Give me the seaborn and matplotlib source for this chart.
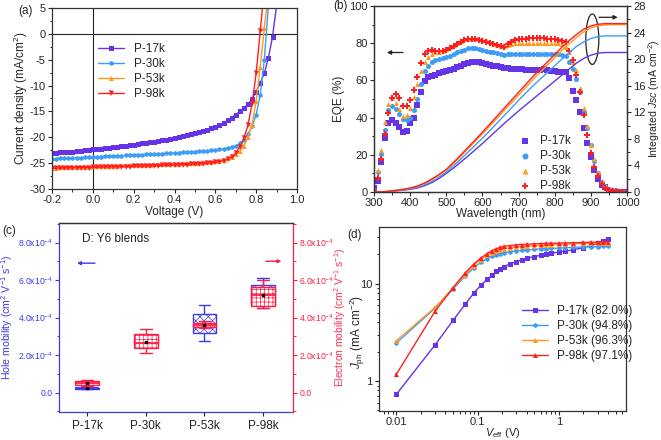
import numpy as np
import pandas as pd
import matplotlib
matplotlib.use("Agg")
import matplotlib.pyplot as plt
import seaborn as sns
from matplotlib.patches import Ellipse
from matplotlib.ticker import MultipleLocator, FixedLocator, FixedFormatter, LogLocator, NullFormatter

sns.set_style("ticks")
plt.rcParams.update({
    "font.family": ["Liberation Sans", "DejaVu Sans"],
    "font.size": 8,
    "mathtext.fontset": "custom",
    "mathtext.rm": "Liberation Sans",
    "mathtext.it": "Liberation Sans:italic",
    "axes.unicode_minus": False,
    "axes.linewidth": 0.9,
    "axes.edgecolor": "#333333",
    "xtick.direction": "out", "ytick.direction": "out",
    "xtick.major.size": 3, "ytick.major.size": 3,
    "xtick.minor.size": 1.8, "ytick.minor.size": 1.8,
    "xtick.major.width": 0.8, "ytick.major.width": 0.8,
    "xtick.minor.width": 0.7, "ytick.minor.width": 0.7,
    "xtick.major.pad": 1.5, "ytick.major.pad": 1.5,
    "xtick.labelsize": 8, "ytick.labelsize": 8,
    "axes.labelsize": 8.5,
    "hatch.linewidth": 0.5,
})

# ---------------- data ----------------
names = ["P-17k", "P-30k", "P-53k", "P-98k"]
colors = ["#6633e6", "#3d9cf5", "#ff9a1f", "#ff1f1f"]

# (a) J-V curves
voltage = [-0.20, -0.18, -0.16, -0.14, -0.12, -0.10, -0.08, -0.06, -0.04, -0.02,
           0.00, 0.02, 0.04, 0.06, 0.08, 0.10, 0.12, 0.14, 0.16, 0.18,
           0.20, 0.22, 0.24, 0.26, 0.28, 0.30, 0.32, 0.34, 0.36, 0.38,
           0.40, 0.42, 0.44, 0.46, 0.48, 0.50, 0.52, 0.54, 0.56, 0.58,
           0.60, 0.62, 0.64, 0.66, 0.68, 0.70, 0.72, 0.74, 0.76, 0.78,
           0.80, 0.82, 0.84, 0.86, 0.88, 0.90]
nan = np.nan
j_17k = [-23.0, -22.95, -22.9, -22.85, -22.8, -22.75, -22.7, -22.6, -22.5, -22.45,
         -22.35, -22.3, -22.2, -22.1, -22.0, -21.9, -21.8, -21.7, -21.6, -21.5,
         -21.4, -21.3, -21.2, -21.1, -21.0, -20.9, -20.75, -20.6, -20.45, -20.3,
         -20.1, -19.9, -19.7, -19.5, -19.3, -19.1, -18.9, -18.7, -18.5, -18.2,
         -18.0, -17.6, -17.2, -16.7, -16.2, -15.6, -15.0, -14.3, -13.6, -12.6,
         -11.2, -9.5, -7.6, -4.6, -0.6, 5.5]
j_30k = [-24.2, -24.15, -24.1, -24.1, -24.05, -24.0, -24.0, -23.95, -23.9, -23.85,
         -23.8, -23.8, -23.75, -23.7, -23.7, -23.65, -23.6, -23.55, -23.5, -23.5,
         -23.45, -23.4, -23.35, -23.3, -23.3, -23.25, -23.2, -23.15, -23.1, -23.05,
         -23.0, -22.95, -22.9, -22.85, -22.8, -22.75, -22.7, -22.65, -22.6, -22.5,
         -22.45, -22.35, -22.25, -22.1, -21.9, -21.7, -21.2, -20.5, -19.3, -17.9,
         -15.6, -11.8, -5.0, 5.5, nan, nan]
j_53k = [-25.9, -25.85, -25.8, -25.8, -25.75, -25.75, -25.7, -25.7, -25.65, -25.65,
         -25.6, -25.6, -25.55, -25.55, -25.5, -25.5, -25.5, -25.45, -25.45, -25.4,
         -25.4, -25.35, -25.35, -25.3, -25.3, -25.25, -25.25, -25.2, -25.2, -25.15,
         -25.1, -25.1, -25.05, -25.0, -25.0, -24.95, -24.9, -24.85, -24.8, -24.7,
         -24.6, -24.5, -24.3, -24.1, -23.8, -23.3, -22.6, -21.6, -20.0, -17.6,
         -13.0, -6.5, 1.2, 8.0, nan, nan]
j_98k = [-26.0, -26.0, -25.95, -25.95, -25.9, -25.9, -25.9, -25.85, -25.85, -25.85,
         -25.8, -25.8, -25.8, -25.75, -25.75, -25.7, -25.7, -25.7, -25.65, -25.65,
         -25.6, -25.6, -25.6, -25.55, -25.55, -25.5, -25.5, -25.45, -25.45, -25.4,
         -25.4, -25.35, -25.3, -25.3, -25.25, -25.2, -25.15, -25.1, -25.0, -24.95,
         -24.85, -24.7, -24.5, -24.2, -23.8, -23.0, -21.8, -20.2, -17.6, -13.5,
         -7.6, 0.5, 9.0, nan, nan, nan]
jv_curves = [j_17k, j_30k, j_53k, j_98k]

# (b) EQE
wavelength = list(range(300, 1001, 10))
eqe_17k = [2, 6, 16, 29, 37, 38.5, 37, 35, 32.5, 33, 37, 40, 47, 54, 59.5, 62, 62.5, 63, 64, 64.5,
           65, 65.5, 66, 67, 68, 69, 69.5, 70, 70, 70, 69.5, 69, 68.5, 68, 67.5, 67, 66.5, 66.5, 66, 66,
           66, 66, 65.5, 65.5, 65.5, 65.5, 65.5, 66, 65.5, 65, 65, 64.5, 64.5, 64.5, 61.5, 54.5, 49.5, 43, 34.5, 26.5,
           19, 12, 7, 3.5, 2.5, 0.5, 0, 0, 0, 0, 0]
eqe_30k = [1, 10.5, 20.5, 33.5, 44, 46.5, 44.5, 42, 39, 38.5, 40, 44, 50, 58, 65, 67.5, 70, 71, 71.5, 72,
           72.5, 73, 74, 75, 76, 76.5, 77.5, 77.5, 77.5, 77, 76.5, 76, 75.5, 75, 74.5, 74, 73.5, 74, 74, 74,
           74, 74, 74, 74, 74, 74, 74, 74, 74, 74, 74, 74, 73.5, 73, 70, 66, 61, 53.5, 43, 34.5,
           25, 16.5, 10, 5.5, 3, 1.5, 0.5, 0, 0, 0, 0]
eqe_53k = [1, 12, 22.5, 37.5, 47.5, 50.5, 48, 44.5, 41, 41.5, 45, 51, 58, 65, 70, 72.5, 74, 75, 75.5, 76,
           77, 78, 79, 80, 81, 82, 82.5, 83, 83, 82.5, 82, 81.5, 80.5, 79.5, 79, 78.5, 78.5, 79, 79.5, 80,
           80, 80, 80, 80, 80, 80, 80, 80, 80, 80, 80, 80, 79.5, 78, 75, 70, 65.5, 56, 45, 35.5,
           25.5, 17.5, 11, 6, 3, 1.5, 0.5, 0, 0, 0, 0]
eqe_98k = [0.5, 7.5, 18, 31, 42.5, 50.5, 52.5, 50.5, 46.5, 46.5, 49.5, 55, 62, 69.5, 74, 76, 76.5, 76, 76, 76,
           76.5, 77.5, 78.5, 79.5, 80.5, 81.5, 82, 82, 82, 81.5, 81, 80.5, 80, 79.5, 79, 78.5, 78, 79.5, 80.5, 81.5,
           82, 82.5, 82.5, 83, 83, 83, 83, 83, 82.5, 82, 82, 81.5, 81, 80.5, 76, 71, 63, 53.5, 41.5, 30.5,
           21, 13.5, 8.5, 4.5, 2, 1, 0.5, 0.3, 0, 0, 0]
eqe_curves = [eqe_17k, eqe_30k, eqe_53k, eqe_98k]
eqe_markers = ["s", "o", "^", "P"]

# integrated Jsc (mA cm^-2)
wl_int = list(range(300, 1001, 20))
jsc_17k = [0, 0.02, 0.07, 0.17, 0.27, 0.4, 0.6, 0.95, 1.4, 2.05, 2.8, 3.6, 4.5, 5.4, 6.35, 7.3, 8.3, 9.3,
           10.3, 11.25, 12.2, 13.1, 14.0, 14.9, 15.8, 16.7, 17.6, 18.5, 19.4, 20.1, 20.6, 20.9, 21.0, 21.0, 21.0, 21.0]
jsc_30k = [0, 0.02, 0.08, 0.2, 0.32, 0.48, 0.72, 1.1, 1.6, 2.25, 3.0, 3.95, 4.95, 6.0, 7.05, 8.1, 9.2, 10.35,
           11.5, 12.65, 13.8, 14.9, 16.0, 17.0, 18.0, 19.0, 20.0, 21.0, 21.9, 22.6, 23.1, 23.4, 23.5, 23.5, 23.5, 23.5]
jsc_53k = [0, 0.02, 0.1, 0.23, 0.38, 0.57, 0.85, 1.28, 1.85, 2.55, 3.3, 4.3, 5.38, 6.5, 7.62, 8.75, 9.9, 11.07,
           12.24, 13.4, 14.58, 15.75, 16.92, 18.03, 19.12, 20.2, 21.3, 22.3, 23.25, 24.1, 24.7, 25.05, 25.15, 25.2, 25.2, 25.2]
jsc_98k = [0, 0.02, 0.1, 0.25, 0.4, 0.6, 0.9, 1.35, 1.95, 2.65, 3.4, 4.45, 5.55, 6.7, 7.85, 9.0, 10.2, 11.4,
           12.6, 13.8, 15.0, 16.2, 17.4, 18.5, 19.6, 20.7, 21.8, 22.8, 23.7, 24.5, 25.0, 25.25, 25.35, 25.35, 25.35, 25.35]
jsc_curves = [jsc_17k, jsc_30k, jsc_53k, jsc_98k]

# (c) mobilities (x1e-4 cm2 V-1 s-1): min, q1, median, q3, max
hole_17k = [0.19, 0.21, 0.23, 0.26, 0.30]
hole_30k = [2.55, 2.62, 2.70, 2.80, 2.90]
hole_53k = [2.76, 3.19, 3.58, 4.19, 4.69]
hole_98k = [4.50, 4.65, 5.15, 5.74, 6.10]
elec_17k = [0.35, 0.43, 0.52, 0.62, 0.68]
elec_30k = [2.09, 2.39, 2.65, 3.10, 3.40]
elec_53k = [3.45, 3.51, 3.62, 3.73, 3.80]
elec_98k = [4.49, 4.62, 5.20, 5.65, 6.00]
mob_ticks = [0, 2, 4, 6, 8]
mob_labels = ["0.0", r"2.0x10$^{-4}$", r"4.0x10$^{-4}$", r"6.0x10$^{-4}$", r"8.0x10$^{-4}$"]

# (d) Jph vs Veff
v_eff = [0.01, 0.03, 0.05, 0.07, 0.09, 0.11, 0.13, 0.15, 0.17, 0.19, 0.21, 0.25, 0.3, 0.35,
         0.4, 0.5, 0.6, 0.7, 0.8, 1.0, 1.2, 1.5, 2.0, 2.5, 3.0, 3.5, 4.0]
jph_17k = [0.73, 2.35, 4.2, 6.1, 8.0, 9.6, 11.0, 12.2, 13.3, 14.2, 14.9, 15.9, 16.8, 17.5,
           18.1, 18.9, 19.5, 20.0, 20.4, 21.0, 21.5, 22.2, 23.3, 24.6, 26.0, 27.4, 28.9]
jph_30k = [2.45, 5.6, 8.8, 11.9, 14.5, 16.5, 18.0, 19.0, 19.8, 20.3, 20.7, 21.2, 21.6, 21.9,
           22.1, 22.4, 22.6, 22.8, 22.9, 23.1, 23.3, 23.5, 23.7, 23.8, 23.9, 24.0, 24.1]
jph_53k = [2.6, 5.7, 9.0, 12.3, 15.3, 17.6, 19.5, 20.8, 21.7, 22.3, 22.7, 23.3, 23.7, 24.0,
           24.2, 24.5, 24.7, 24.9, 25.0, 25.2, 25.4, 25.6, 25.8, 25.9, 26.0, 26.1, 26.2]
jph_98k = [1.17, 5.2, 9.1, 12.8, 15.9, 18.3, 20.2, 21.7, 22.8, 23.5, 24.0, 24.5, 24.9, 25.1,
           25.3, 25.5, 25.7, 25.8, 25.9, 26.0, 26.1, 26.2, 26.4, 26.5, 26.6, 26.7, 26.8]
jph_curves = [jph_17k, jph_30k, jph_53k, jph_98k]
jph_labels = ["P-17k (82.0%)", "P-30k (94.8%)", "P-53k (96.3%)", "P-98k (97.1%)"]

# ---------------- figure ----------------
W, H = 661, 440
fig = plt.figure(figsize=(W / 100, H / 100), dpi=100)

def axes_px(left, top, right, bottom):
    return fig.add_axes([left / W, 1 - bottom / H, (right - left) / W, (bottom - top) / H])

# ===== (a) =====
ax = axes_px(52, 8, 297, 189)
jv_markers = ["s", "h", "^", "v"]
for name, c, m, j in zip(names, colors, jv_markers, jv_curves):
    sns.lineplot(x=voltage, y=j, ax=ax, color=c, marker=m, markersize=3.6, markeredgewidth=0,
                 linewidth=1.0, label=name, estimator=None, sort=False)
ax.axhline(0, color="#222222", lw=0.8, zorder=0)
ax.axvline(0, color="#222222", lw=0.8, zorder=0)
ax.set_xlim(-0.2, 1.0)
ax.set_ylim(-30, 5)
ax.xaxis.set_major_locator(MultipleLocator(0.2))
ax.xaxis.set_minor_locator(MultipleLocator(0.1))
ax.yaxis.set_major_locator(MultipleLocator(5))
ax.yaxis.set_minor_locator(MultipleLocator(2.5))
ax.xaxis.set_major_formatter(matplotlib.ticker.FormatStrFormatter("%.1f"))
ax.set_xlabel("Voltage (V)")
ax.set_ylabel("Current density (mA/cm$^2$)")
ax.xaxis.set_label_coords(0.5, -0.092)
ax.yaxis.set_label_coords(-0.09, 0.5)
ax.legend(loc="upper left", bbox_to_anchor=(0.17, 0.83), frameon=False, handlelength=2.2,
          labelspacing=0.25, fontsize=8.5, borderaxespad=0)

# ===== (b) =====
axb = axes_px(374, 6, 627, 192)
for name, c, m, e in zip(names, colors, eqe_markers, eqe_curves):
    sns.scatterplot(x=wavelength, y=e, ax=axb, color=c, marker=m, s=13, linewidth=0, label=name)
axb.set_xlim(300, 1000)
axb.set_ylim(0, 100)
axb.xaxis.set_major_locator(MultipleLocator(100))
axb.xaxis.set_minor_locator(MultipleLocator(50))
axb.yaxis.set_major_locator(MultipleLocator(20))
axb.yaxis.set_minor_locator(MultipleLocator(10))
axb.set_xlabel("Wavelength (nm)")
axb.set_ylabel("EQE (%)")
axb.xaxis.set_label_coords(0.5, -0.085)
axb.yaxis.set_label_coords(-0.115, 0.5)
axb.legend(loc="upper left", bbox_to_anchor=(0.53, 0.33), frameon=False, handletextpad=0.3,
           labelspacing=0.25, fontsize=8.5, borderaxespad=0, markerscale=1.2)
axb.annotate("", xy=(328, 75), xytext=(388, 75),
             arrowprops=dict(arrowstyle="-|>", color="#222222", lw=0.9, mutation_scale=6))
axb2 = axb.twinx()
for c, jj in zip(colors, jsc_curves):
    sns.lineplot(x=wl_int, y=jj, ax=axb2, color=c, linewidth=1.0, legend=False)
axb2.set_ylim(0, 28)
axb2.yaxis.set_major_locator(MultipleLocator(4))
axb2.yaxis.set_minor_locator(MultipleLocator(2))
axb2.set_ylabel("Integrated $\\mathit{Jsc}$ (mA cm$^{-2}$)", fontsize=7.6)
axb2.yaxis.set_label_coords(1.075, 0.5)
axb2.add_patch(Ellipse((904, 23.0), 36, 7.6, fill=False, edgecolor="#222222", lw=0.9))
axb2.annotate("", xy=(982, 26.3), xytext=(915, 26.3),
              arrowprops=dict(arrowstyle="-|>", color="#222222", lw=0.9, mutation_scale=6))

# ===== (c) =====
blue = "#3b3be6"
red = "#ff1f44"
axc = axes_px(59, 223, 293, 412)
hole_df = pd.DataFrame({"sample": np.repeat(names, 5),
                        "mu": hole_17k + hole_30k + hole_53k + hole_98k})
elec_df = pd.DataFrame({"sample": np.repeat(names, 5),
                        "mu": elec_17k + elec_30k + elec_53k + elec_98k})
sns.boxplot(data=hole_df, x="sample", y="mu", ax=axc, width=0.4, whis=(0, 100), color="white",
            linecolor=blue, linewidth=1.0,
            medianprops=dict(color=blue, linewidth=1.3),
            showmeans=True, meanprops=dict(marker="s", markersize=2, markerfacecolor="k", markeredgecolor="k"))
for p in axc.patches:
    p.set_facecolor("white")
    p.set_edgecolor(blue)
    p.set_hatch("xxxx")
axc2 = axc.twinx()
sns.boxplot(data=elec_df, x="sample", y="mu", ax=axc2, width=0.4, whis=(0, 100), color="white",
            linecolor=red, linewidth=1.0,
            medianprops=dict(color=red, linewidth=1.3),
            showmeans=True, meanprops=dict(marker="s", markersize=2, markerfacecolor="k", markeredgecolor="k"))
for p in axc2.patches:
    p.set_facecolor("white")
    p.set_edgecolor(red)
    p.set_hatch("++++")
for a in (axc, axc2):
    a.set_xlim(-0.48, 3.51)
    a.set_ylim(-1.03, 9.04)
    a.yaxis.set_major_locator(FixedLocator(mob_ticks))
    a.yaxis.set_major_formatter(FixedFormatter(mob_labels))
    a.yaxis.set_minor_locator(MultipleLocator(1))
axc.set_xlabel("")
axc2.set_xlabel("")
axc.tick_params(axis="y", which="both", colors=blue, labelsize=6.2)
axc2.tick_params(axis="y", which="both", colors=red, labelsize=6.2)
axc.tick_params(axis="x", colors="#222222", labelsize=8.5, pad=3)
axc.spines["left"].set_color(blue)
axc.spines["bottom"].set_color(blue)
axc2.spines["left"].set_visible(False)
axc2.spines["bottom"].set_visible(False)
axc.spines["right"].set_visible(False)
axc2.spines["right"].set_color(red)
axc2.spines["top"].set_color("#333333")
axc.set_ylabel("Hole mobility (cm$^2$ V$^{-1}$ s$^{-1}$)", color=blue, fontsize=7.6)
axc.yaxis.set_label_coords(-0.188, 0.5)
axc2.set_ylabel("Electron mobility (cm$^2$ V$^{-1}$ s$^{-1}$)", color="#ff3355", fontsize=7.4)
axc2.yaxis.set_label_coords(1.168, 0.5)
axc.text(-0.08, 8.2, "D: Y6 blends", fontsize=8.5, va="center", ha="left", color="#222222")
axc.annotate("", xy=(-0.22, 6.9), xytext=(0.18, 6.9),
             arrowprops=dict(arrowstyle="-|>", color=blue, lw=1.0, mutation_scale=5))
axc2.annotate("", xy=(3.36, 7.0), xytext=(3.0, 7.0),
              arrowprops=dict(arrowstyle="-|>", color=red, lw=1.0, mutation_scale=5))

# ===== (d) =====
axd = axes_px(379, 227, 626, 411)
d_markers = ["s", "h", "^", "^"]
for lab, c, m, jp in zip(jph_labels, colors, d_markers, jph_curves):
    sns.lineplot(x=v_eff, y=jp, ax=axd, color=c, marker=m, markersize=3.6, markeredgewidth=0,
                 linewidth=1.0, label=lab, estimator=None, sort=False)
axd.set_xscale("log")
axd.set_yscale("log")
axd.set_xlim(0.00612, 6.69)
axd.set_ylim(0.493, 38)
axd.xaxis.set_major_locator(FixedLocator([0.01, 0.1, 1]))
axd.xaxis.set_major_formatter(FixedFormatter(["0.01", "0.1", "1"]))
axd.xaxis.set_minor_locator(LogLocator(base=10, subs=np.arange(2, 10)))
axd.xaxis.set_minor_formatter(NullFormatter())
axd.yaxis.set_major_locator(FixedLocator([1, 10]))
axd.yaxis.set_major_formatter(FixedFormatter(["1", "10"]))
axd.yaxis.set_minor_locator(LogLocator(base=10, subs=np.arange(2, 10)))
axd.yaxis.set_minor_formatter(NullFormatter())
axd.set_xlabel("$V_{\\rm eff}$ (V)", fontsize=8)
axd.set_ylabel("$J_{\\rm ph}$ (mA cm$^{-2}$)")
axd.xaxis.set_label_coords(0.5, -0.08)
axd.yaxis.set_label_coords(-0.05, 0.43)
axd.legend(loc="upper left", bbox_to_anchor=(0.56, 0.60), frameon=False, handlelength=2.2,
           labelspacing=0.25, fontsize=8.5, borderaxespad=0)

# panel labels
fig.text(18 / W, 1 - 11 / H, "(a)", fontsize=8.5, va="center", ha="left")
fig.text(333 / W, 1 - 6 / H, "(b)", fontsize=8.5, va="center", ha="left")
fig.text(2 / W, 1 - 231 / H, "(c)", fontsize=8.5, va="center", ha="left")
fig.text(347 / W, 1 - 235 / H, "(d)", fontsize=8.5, va="center", ha="left")

fig.savefig("out.png", dpi=100)
